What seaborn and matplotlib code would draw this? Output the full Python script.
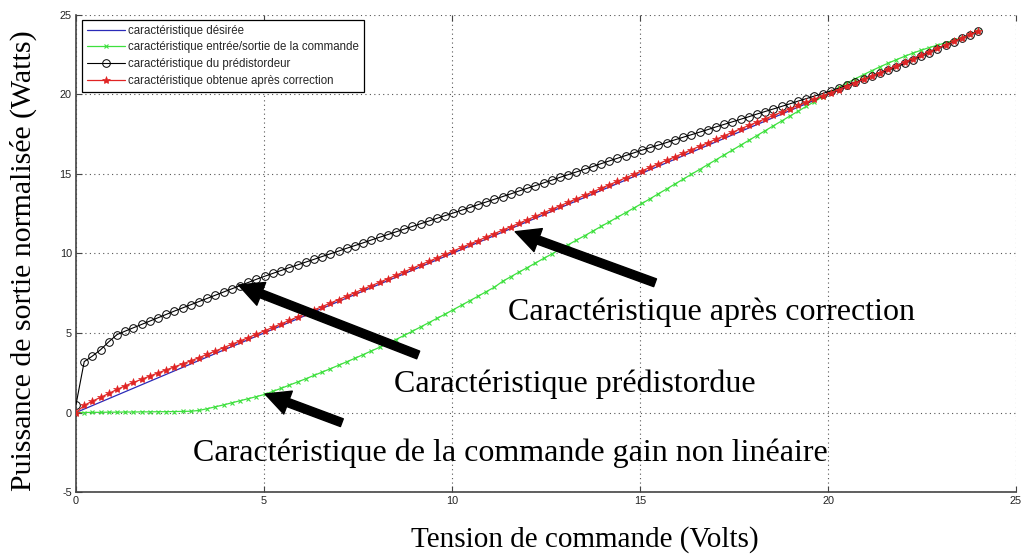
import numpy as np
import pandas as pd
import seaborn as sns
import matplotlib
matplotlib.use("Agg")
import matplotlib.pyplot as plt
from matplotlib.patches import ArrowStyle

# Control voltage grid shared by the sampled characteristics (Volts)
tension = np.linspace(0, 24, 111)

# Desired (linear) characteristic: end points of the straight line
tension_desiree = [0, 24]
puissance_desiree = [0, 24]

# Input/output characteristic of the nonlinear command
puissance_commande = [
    0.00, 0.00, 0.01, 0.01, 0.02, 0.02, 0.03, 0.03, 0.04, 0.04,
    0.05, 0.05, 0.06, 0.07, 0.08, 0.13, 0.24, 0.36, 0.48, 0.61,
    0.74, 0.87, 1.00, 1.14, 1.33, 1.52, 1.72, 1.92, 2.12, 2.33,
    2.54, 2.75, 2.97, 3.19, 3.41, 3.64, 3.87, 4.10, 4.34, 4.59,
    4.85, 5.11, 5.38, 5.65, 5.92, 6.19, 6.47, 6.75, 7.03, 7.31,
    7.60, 7.88, 8.25, 8.54, 8.83, 9.11, 9.40, 9.69, 9.97, 10.26,
    10.55, 10.84, 11.12, 11.41, 11.70, 11.99, 12.28, 12.57, 12.86, 13.15,
    13.45, 13.76, 14.06, 14.37, 14.67, 14.98, 15.28, 15.59, 15.89, 16.20,
    16.50, 16.81, 17.11, 17.42, 17.72, 18.03, 18.33, 18.64, 18.94, 19.25,
    19.55, 19.86, 20.16, 20.45, 20.73, 20.99, 21.25, 21.50, 21.74, 21.97,
    22.19, 22.40, 22.60, 22.78, 22.95, 23.10, 23.25, 23.40, 23.58, 23.78,
    24.00,
]

# Predistorter characteristic
puissance_predistordeur = [
    0.50, 3.20, 3.55, 3.95, 4.45, 4.90, 5.12, 5.33, 5.54, 5.75,
    5.96, 6.17, 6.38, 6.58, 6.78, 6.98, 7.18, 7.38, 7.58, 7.78,
    7.98, 8.18, 8.38, 8.57, 8.75, 8.93, 9.11, 9.28, 9.46, 9.63,
    9.81, 9.98, 10.15, 10.33, 10.50, 10.67, 10.85, 11.02, 11.19, 11.36,
    11.53, 11.70, 11.87, 12.04, 12.21, 12.38, 12.55, 12.72, 12.89, 13.07,
    13.24, 13.41, 13.58, 13.75, 13.93, 14.10, 14.27, 14.44, 14.61, 14.79,
    14.96, 15.13, 15.30, 15.47, 15.65, 15.82, 15.99, 16.16, 16.33, 16.50,
    16.66, 16.82, 16.98, 17.15, 17.31, 17.47, 17.63, 17.79, 17.96, 18.12,
    18.28, 18.44, 18.60, 18.77, 18.93, 19.09, 19.25, 19.41, 19.58, 19.74,
    19.90, 20.06, 20.22, 20.40, 20.59, 20.78, 20.97, 21.15, 21.34, 21.53,
    21.72, 21.95, 22.18, 22.40, 22.63, 22.86, 23.09, 23.32, 23.54, 23.77,
    24.00,
]

# Characteristic obtained after correction
puissance_corrigee = [
    0.00, 0.45, 0.72, 0.95, 1.20, 1.45, 1.68, 1.89, 2.09, 2.29,
    2.49, 2.68, 2.87, 3.06, 3.25, 3.45, 3.66, 3.87, 4.08, 4.29,
    4.50, 4.71, 4.93, 5.14, 5.36, 5.57, 5.79, 6.01, 6.23, 6.45,
    6.66, 6.88, 7.10, 7.32, 7.54, 7.76, 7.97, 8.19, 8.41, 8.63,
    8.85, 9.07, 9.29, 9.50, 9.72, 9.94, 10.16, 10.38, 10.59, 10.81,
    11.03, 11.25, 11.47, 11.68, 11.90, 12.12, 12.34, 12.56, 12.78, 13.00,
    13.22, 13.44, 13.66, 13.88, 14.10, 14.32, 14.54, 14.76, 14.98, 15.20,
    15.42, 15.64, 15.86, 16.08, 16.30, 16.52, 16.74, 16.96, 17.18, 17.40,
    17.62, 17.84, 18.05, 18.26, 18.47, 18.68, 18.89, 19.10, 19.31, 19.51,
    19.71, 19.91, 20.11, 20.31, 20.53, 20.74, 20.95, 21.17, 21.38, 21.60,
    21.82, 22.04, 22.25, 22.47, 22.69, 22.91, 23.13, 23.35, 23.56, 23.78,
    24.00,
]

legendes = [
    "caractéristique désirée",
    "caractéristique entrée/sortie de la commande",
    "caractéristique du prédistordeur",
    "caractéristique obtenue après correction",
]

x_ticks = [0, 5, 10, 15, 20, 25]
y_ticks = [-5, 0, 5, 10, 15, 20, 25]

sns.set_theme(style="white")
plt.rcParams["font.family"] = ["Liberation Sans", "DejaVu Sans"]
plt.rcParams["axes.unicode_minus"] = False

fig = plt.figure(figsize=(10.23, 5.55), dpi=100)
ax = fig.add_axes([0.0743, 0.1135, 0.9189, 0.8595])

sns.lineplot(x=tension_desiree, y=puissance_desiree, ax=ax, color="#2a2ab8",
             linewidth=0.9, label=legendes[0], zorder=2)
sns.lineplot(x=tension, y=puissance_commande, ax=ax, color="#3ee03e",
             linewidth=0.9, marker="x", markersize=3.5, markeredgewidth=0.8,
             markeredgecolor="#3ee03e", label=legendes[1], zorder=3)
sns.lineplot(x=tension, y=puissance_predistordeur, ax=ax, color="black",
             linewidth=0.8, marker="o", markersize=5.5, markeredgewidth=0.7,
             markerfacecolor="none", markeredgecolor="black",
             label=legendes[2], zorder=4)
sns.lineplot(x=tension, y=puissance_corrigee, ax=ax, color="#e02424",
             linewidth=0.9, marker="*", markersize=6, markeredgewidth=0.45,
             markeredgecolor="#e02424", markerfacecolor="#e02424",
             label=legendes[3], zorder=5)

ax.set_xlim(0, 25)
ax.set_ylim(-5, 25)
ax.set_xticks(x_ticks)
ax.set_yticks(y_ticks)
ax.tick_params(axis="both", direction="in", length=4, width=0.8,
               labelsize=7.8, labelcolor="#222222", color="#444444", pad=3,
               top=True, right=False, bottom=True, left=True)

ax.grid(True, color="#555555", linestyle=(0, (1, 3)), linewidth=0.8)
for side in ("top", "right"):
    ax.spines[side].set_visible(False)
for side in ("left", "bottom"):
    ax.spines[side].set_color("#444444")
    ax.spines[side].set_linewidth(1.2)

serif = ["Liberation Serif", "DejaVu Serif"]
ax.set_xlabel("Tension de commande (Volts)", fontsize=21, family=serif,
              color="black")
ax.set_ylabel("Puissance de sortie normalisée (Watts)", fontsize=21.5,
              family=serif, color="black")
ax.xaxis.set_label_coords(0.541, -0.072)
ax.yaxis.set_label_coords(-0.041, 0.485)

leg = ax.legend(loc="upper left", bbox_to_anchor=(0.0064, 0.9895),
                borderaxespad=0, fontsize=8.3, frameon=True, fancybox=False,
                framealpha=1, edgecolor="black", handlelength=3.3,
                handletextpad=0.3, labelspacing=0.42, borderpad=0.4)
leg.get_frame().set_linewidth(0.9)

fleche = ArrowStyle("simple", head_length=0.8, head_width=0.8,
                    tail_width=0.27)
annotations = [
    ("Caractéristique après correction", (11.68, 11.37), (15.4, 8.16),
     (11.5, 6.3)),
    ("Caractéristique prédistordue", (4.32, 8.02), (9.1, 3.62),
     (8.45, 1.8)),
    ("Caractéristique de la commande gain non linéaire", (5.03, 1.16),
     (7.07, -0.64), (3.1, -2.55)),
]
for texte, pointe, queue, pos in annotations:
    ax.annotate("", xy=pointe, xytext=queue,
                arrowprops=dict(arrowstyle=fleche, color="black",
                                mutation_scale=22, shrinkA=0, shrinkB=0),
                zorder=6)
    ax.text(pos[0], pos[1], texte, fontsize=23, family=serif,
            color="black", ha="left", va="center", zorder=7)

fig.savefig("out.png", dpi=100, facecolor="white")
